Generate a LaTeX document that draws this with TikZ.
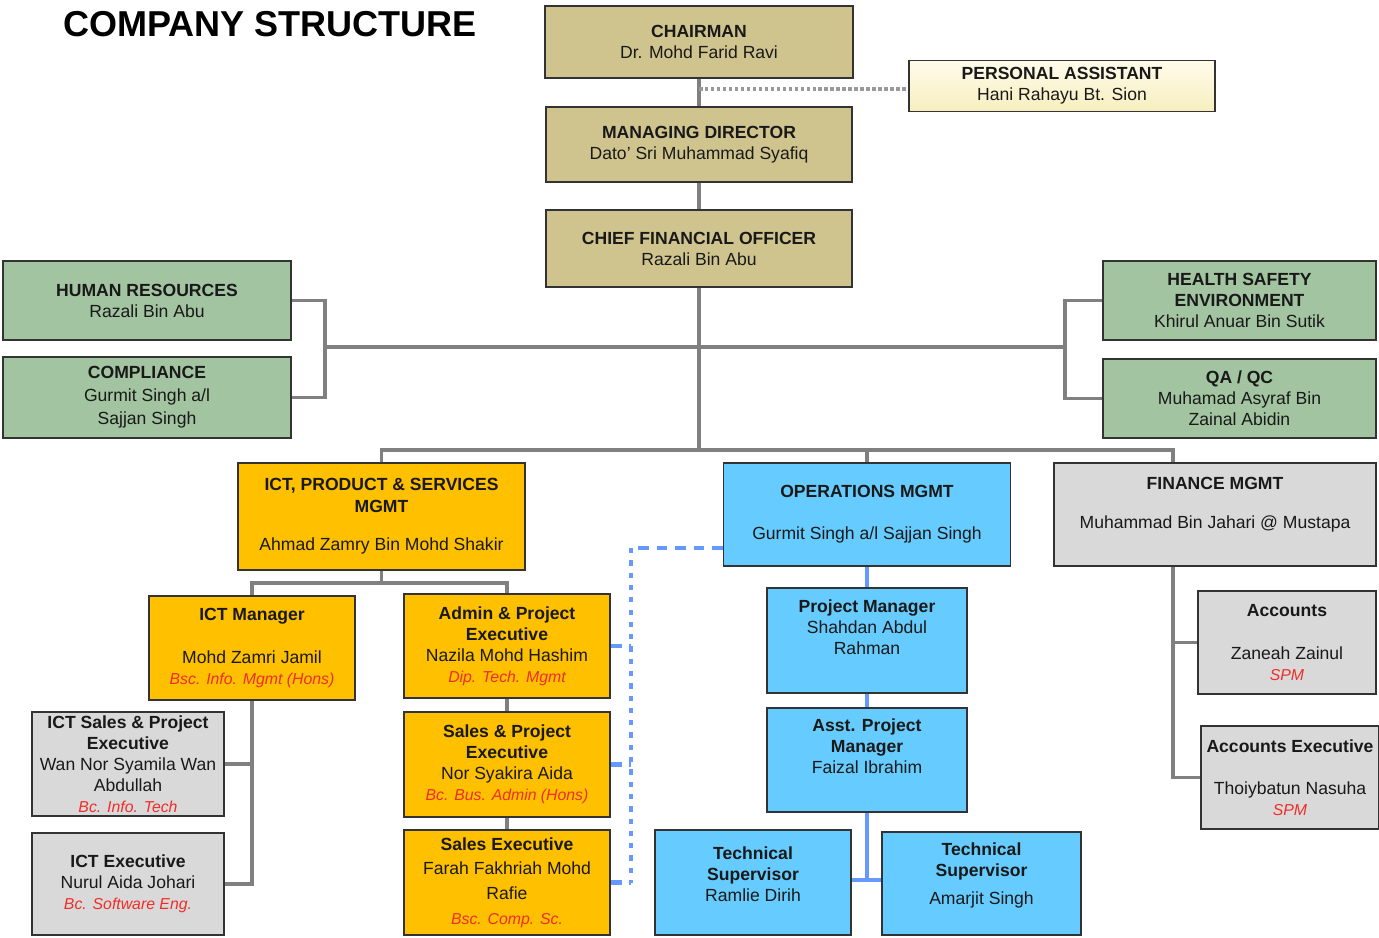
\documentclass[tikz,border=0pt]{standalone}
\usepackage{fontspec}
\setmainfont{Liberation Sans}

\definecolor{chairtan}{RGB}{208,196,142}
\definecolor{pacream}{RGB}{247,238,190}
\definecolor{pacreamlight}{RGB}{255,252,235}
\definecolor{staffgreen}{RGB}{162,196,160}
\definecolor{ictorange}{RGB}{255,192,0}
\definecolor{opsblue}{RGB}{102,204,255}
\definecolor{fingray}{RGB}{217,217,217}
\definecolor{linkgray}{RGB}{128,128,128}
\definecolor{opsline}{RGB}{102,153,255}
\definecolor{qualred}{RGB}{240,45,40}

\newcommand{\px}{0.02cm}
\newcommand{\qual}[1]{{\fontsize{9}{12}\selectfont\itshape\color{qualred}#1}}

\begin{document}
\begin{tikzpicture}[
    % GLOBAL CFG
    x=\px, y=-\px,
    font=\fontsize{10}{12}\selectfont,
    % Styles
    box/.style={% every position box
        rectangle,
        draw=black!80,
        line width=1.1pt,
        align=center,
        inner sep=0pt,
        text=black!90,
        },
    boss/.style={box, fill=chairtan},
    assistant/.style={box, top color=pacreamlight, bottom color=pacream},
    staff/.style={box, fill=staffgreen},
    ictbox/.style={box, fill=ictorange},
    opsbox/.style={box, fill=opsblue},
    finbox/.style={box, fill=fingray},
    link/.style={% grey reporting lines
        draw=linkgray,
        line width=1.8pt,
        },
    opslink/.style={% blue lines inside operations
        draw=opsline,
        line width=2.3pt,
        },
    dotlink/.style={% to the personal assistant
        draw=linkgray!80,
        line width=2pt,
        dash pattern=on 2pt off 1.4pt,
        },
    dashlink/.style={% operations to the sales side
        draw=opsline,
        line width=2.6pt,
        dash pattern=on 6pt off 4.5pt,
        },
    dotblue/.style={
        draw=opsline,
        line width=1.8pt,
        dash pattern=on 3pt off 4pt,
        },
    ]

    \useasboundingbox (0,0) rectangle (1379,937);

    % Title
    \node[font=\bfseries\fontsize{20.5}{24}\selectfont] (title) at (270,24) {COMPANY STRUCTURE};

    % Draw the top management
    \node[boss, minimum width=308*\px, minimum height=72*\px] (chair) at (699,42) {\textbf{CHAIRMAN}\\Dr. Mohd Farid Ravi};
    \node[assistant, minimum width=306*\px, minimum height=51*\px] (pa) at (1062,86) {\textbf{PERSONAL ASSISTANT}\\Hani Rahayu Bt. Sion};
    \node[boss, minimum width=306*\px, minimum height=75*\px] (md) at (699,144.5) {\textbf{MANAGING DIRECTOR}\\Dato' Sri Muhammad Syafiq};
    \node[boss, minimum width=306*\px, minimum height=77*\px] (cfo) at (699,248.5) {\textbf{CHIEF FINANCIAL OFFICER}\\Razali Bin Abu};

    % Draw the support units
    \node[staff, minimum width=288*\px, minimum height=79*\px] (hr) at (147,300.5) {\textbf{HUMAN RESOURCES}\\Razali Bin Abu};
    \node[staff, minimum width=288*\px, minimum height=81*\px] (comp) at (147,397.5) {\textbf{COMPLIANCE}\\[1pt]Gurmit Singh a/l\\[1pt]Sajjan Singh};
    \node[staff, minimum width=273*\px, minimum height=79*\px] (hse) at (1239.5,300.5) {\textbf{HEALTH SAFETY}\\\textbf{ENVIRONMENT}\\Khirul Anuar Bin Sutik};
    \node[staff, minimum width=273*\px, minimum height=79*\px] (qa) at (1239.5,398.5) {\textbf{QA / QC}\\Muhamad Asyraf Bin\\Zainal Abidin};

    % Draw the departments
    \node[ictbox, minimum width=287*\px, minimum height=107*\px] (ict) at (381.5,516.5) {\textbf{ICT, PRODUCT \& SERVICES}\\\textbf{MGMT}\\[10pt]Ahmad Zamry Bin Mohd Shakir};
    \node[opsbox, minimum width=287*\px, minimum height=103*\px] (ops) at (867,514.5) {\textbf{OPERATIONS MGMT}\\[12pt]Gurmit Singh a/l Sajjan Singh};
    \node[finbox, minimum width=322*\px, minimum height=103*\px] (fin) at (1215,514.5) {\textbf{FINANCE MGMT}\\[10pt]Muhammad Bin Jahari @ Mustapa\\[-2pt]\strut};

    % ICT side
    \node[ictbox, minimum width=206*\px, minimum height=104*\px] (ictm) at (252,648) {\textbf{ICT Manager}\\[12pt]Mohd Zamri Jamil\\\qual{Bsc. Info. Mgmt (Hons)}};
    \node[ictbox, minimum width=206*\px, minimum height=104*\px] (adm) at (507,646) {\textbf{Admin \& Project}\\\textbf{Executive}\\Nazila Mohd Hashim\\\qual{Dip. Tech. Mgmt}};
    \node[finbox, minimum width=192*\px, minimum height=104*\px] (icts) at (128,764) {\textbf{ICT Sales \& Project}\\\textbf{Executive}\\Wan Nor Syamila Wan\\Abdullah\\\qual{Bc. Info. Tech}};
    \node[finbox, minimum width=192*\px, minimum height=102*\px] (icte) at (128,884) {\textbf{ICT Executive}\\Nurul Aida Johari\\\qual{Bc. Software Eng.}};
    \node[ictbox, minimum width=206*\px, minimum height=105*\px] (sp) at (507,764.5) {\textbf{Sales \& Project}\\\textbf{Executive}\\Nor Syakira Aida\\\qual{Bc. Bus. Admin (Hons)}};
    \node[ictbox, minimum width=206*\px, minimum height=105*\px] (se) at (507,882.5) {\textbf{Sales Executive}\\[2pt]Farah Fakhriah Mohd\\[2pt]Rafie\\[2pt]\qual{Bsc. Comp. Sc.}};

    % Operations side
    \node[opsbox, minimum width=200*\px, minimum height=105*\px] (pm) at (867,640.5) {\textbf{Project Manager}\\Shahdan Abdul\\Rahman\\ \strut};
    \node[opsbox, minimum width=200*\px, minimum height=104*\px] (apm) at (867,760) {\textbf{Asst. Project}\\\textbf{Manager}\\Faizal Ibrahim\\ \strut};
    \node[opsbox, minimum width=196*\px, minimum height=105*\px] (ts1) at (753,882.5) {\textbf{Technical}\\\textbf{Supervisor}\\Ramlie Dirih\\[-6pt]\strut};
    \node[opsbox, minimum width=199*\px, minimum height=103*\px] (ts2) at (981.5,883.5) {\textbf{Technical}\\\textbf{Supervisor}\\[4pt]Amarjit Singh\\[-4pt]\strut};

    % Finance side
    \node[finbox, minimum width=178*\px, minimum height=103*\px] (acc) at (1287,642.5) {\textbf{Accounts}\\[12pt]Zaneah Zainul\\\qual{SPM}};
    \node[finbox, minimum width=178*\px, minimum height=103*\px] (acce) at (1290,777.5) {\textbf{Accounts Executive}\\[12pt]Thoiybatun Nasuha\\\qual{SPM}};

% Start connecting all.
    \coordinate (padot) at (699,89);
    \coordinate (spine) at (699,450);
    \coordinate (lb) at (325,347);
    \coordinate (rb) at (1065,347);
    \coordinate (findrop) at (1173,450);
    \coordinate (ictbus) at (381.5,583);
    \coordinate (ictleg) at (252,884);
    \coordinate (opsdash) at (631,548);
    \coordinate (dashend) at (631,882.5);
    \coordinate (tsbus) at (867,880);
    \coordinate (finleg) at (findrop |- acce.west);

    % top chain
    \draw[link] (chair) -- (md);
    \draw[link] (md) -- (cfo);
    \draw[dotlink] (padot) -- (padot -| pa.west);
    \draw[link] (cfo) -- (spine);

    % support units
    \draw[link] (hr.east) -| (lb) |- (comp.east);
    \draw[link] (hse.west) -| (rb) |- (qa.west);
    \draw[link] (lb) -- (rb);

    % departments
    \draw[link] (ict.north) |- (spine) -- (findrop) -- (findrop |- fin.north);
    \draw[link] (ops.north) -- (ops.north |- spine);

    % ICT
    \draw[link] (ict) -- (ictbus);
    \draw[link] (ictm.north) |- (ictbus) -| (adm.north);
    \draw[link] (ictm) -- (ictleg) -- (icte.east);
    \draw[link] (icts.east) -- (icts.east -| ictleg);
    \draw[link] (adm) -- (sp);
    \draw[link] (sp) -- (se);

    % operations to sales (dashed)
    \draw[dashlink] (opsdash -| ops.west) -- (opsdash);
    \draw[dotblue] (opsdash) -- (dashend);
    \draw[dashlink] (adm.east) -- (adm.east -| opsdash);
    \draw[dashlink] (sp.east) -- (sp.east -| opsdash);
    \draw[dashlink] (se.east) -- (dashend);

    % operations
    \draw[opslink] (ops) -- (pm);
    \draw[opslink] (pm) -- (apm);
    \draw[opslink] (apm) -- (tsbus);
    \draw[opslink] (ts1.east |- tsbus) -- (ts2.west |- tsbus);

    % finance
    \draw[link] (findrop |- fin.south) -- (finleg) -- (acce.west);
    \draw[link] (acc.west) -- (acc.west -| finleg);

\end{tikzpicture}
\end{document}
